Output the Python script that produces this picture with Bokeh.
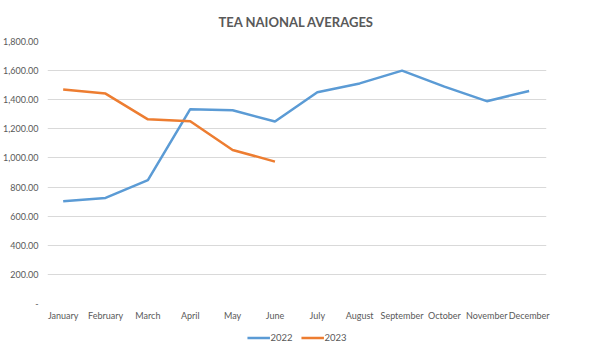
from bokeh.plotting import figure
from bokeh.layouts import column
from bokeh.models import Range1d, FixedTicker, NumeralTickFormatter, Legend, LegendItem
from bokeh.embed import file_html
from bokeh.resources import INLINE

months = ["January", "February", "March", "April", "May", "June", "July",
          "August", "September", "October", "November", "December"]
y2022 = [703, 725, 848, 1335, 1328, 1250, 1452, 1512, 1600, 1490, 1390, 1460]
y2023 = [1470, 1442, 1265, 1252, 1055, 975]
y_ticks = [0, 200, 400, 600, 800, 1000, 1200, 1400, 1600, 1800]
series_names = ["2022", "2023"]
series_colors = ["#5B9BD5", "#ED7D31"]

FONT = "Lato"
GREY = "#595959"

xs = list(range(len(months)))
series_values = [y2022, y2023]

p = figure(width=590, height=326, output_backend="svg", toolbar_location=None,
           x_range=Range1d(-0.37, 11.41), y_range=Range1d(0, 1800),
           min_border_left=46, min_border_right=0, min_border_top=41, min_border_bottom=23)
p.title.text = "TEA NAIONAL AVERAGES"
p.title.align = "left"
p.title.offset = 171
p.title.standoff = 23
p.title.text_font = FONT
p.title.text_font_size = "13px"
p.title.text_font_style = "bold"
p.title.text_color = GREY
p.outline_line_color = None

for vals, color in zip(series_values, series_colors):
    p.line(xs[:len(vals)], vals, line_color=color, line_width=2.5)

p.xaxis.ticker = FixedTicker(ticks=xs)
p.xaxis.major_label_overrides = {i: m for i, m in enumerate(months)}
p.yaxis.ticker = FixedTicker(ticks=y_ticks)
p.yaxis.formatter = NumeralTickFormatter(format="0,0.00")
p.yaxis.major_label_overrides = {0: "-"}
for ax in (p.xaxis[0], p.yaxis[0]):
    ax.axis_line_color = None
    ax.major_tick_line_color = None
    ax.minor_tick_line_color = None
    ax.major_label_text_font = FONT
    ax.major_label_text_font_size = "9px"
    ax.major_label_text_color = GREY
p.xaxis.major_label_standoff = 0
p.yaxis.major_label_standoff = 3
p.xgrid.grid_line_color = None
p.ygrid.grid_line_color = "#D9D9D9"

# legend strip below the chart (series drawn out of its visible range, used only as legend glyphs)
lg = figure(width=590, height=22, output_backend="svg", toolbar_location=None,
            x_axis_location=None, y_axis_location=None,
            x_range=Range1d(0, 11), y_range=Range1d(-20, -10),
            min_border_left=0, min_border_right=44, min_border_top=0, min_border_bottom=0)
lg.outline_line_color = None
lg.grid.visible = False
items = []
for name, vals, color in zip(series_names, series_values, series_colors):
    r = lg.line(xs[:len(vals)], vals, line_color=color, line_width=2.5)
    items.append(LegendItem(label=name, renderers=[r]))
legend = Legend(items=items, orientation="horizontal", location="center",
                label_text_font=FONT, label_text_font_size="9.5px", label_text_color=GREY,
                glyph_width=23, glyph_height=10, label_standoff=1, spacing=8,
                border_line_color=None, background_fill_alpha=0, padding=0, margin=0)
lg.add_layout(legend)

layout = column(p, lg, spacing=0)
open("out.html", "w").write(file_html(layout, INLINE))
